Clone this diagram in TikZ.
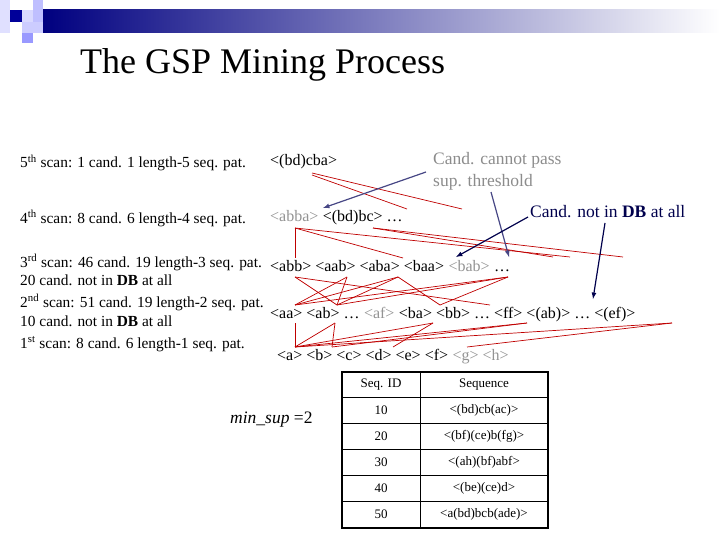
\documentclass[tikz,border=0pt]{standalone}
\usepackage{fontspec}
\setmainfont{Liberation Serif}
\begin{document}
\begin{tikzpicture}[x=1pt,y=-1pt,
  txt/.style={anchor=base west,inner sep=0pt,font=\fontsize{15.4}{17}\selectfont},
  seq/.style={anchor=base west,inner sep=0pt,font=\fontsize{16}{18}\selectfont},
  gry/.style={seq,text=gray!85},
  ann/.style={anchor=base west,inner sep=0pt,font=\fontsize{17.5}{19}\selectfont},
  cell/.style={inner sep=0pt,font=\fontsize{13}{14}\selectfont},
  red/.style={draw=red!75!black,line width=0.7pt},
  garr/.style={draw=gray!70!blue!80!black,line width=1.2pt,-latex},
  narr/.style={draw=blue!30!black,line width=1.2pt,-latex}]
\useasboundingbox (0,0) rectangle (720,540);
% logo
\shade[left color=blue!50!black, right color=white] (43,10) rectangle (720,33);
\fill[blue!12] (0,0) rectangle (10,33);
\fill[blue!60!black] (10,10) rectangle (22,22);
\fill[blue!15] (22,10) rectangle (33,22);
\fill[blue!25] (33,0) rectangle (43,22);
\fill[blue!20] (22,22) rectangle (43,33);
\fill[blue!40] (22,33) rectangle (33,43);
% title
\node[anchor=base west,inner sep=0pt,font=\fontsize{36}{40}\selectfont] (title) at (80,74) {The GSP Mining Process};
% left column
\node[txt] (s5) at (20,168) {5\textsuperscript{th} scan: 1 cand. 1 length-5 seq. pat.};
\node[txt] (s4) at (20,223) {4\textsuperscript{th} scan: 8 cand. 6 length-4 seq. pat.};
\node[txt] (s3) at (20,267) {3\textsuperscript{rd} scan: 46 cand. 19 length-3 seq. pat.};
\node[txt] (s3b) at (20,285) {20 cand. not in \textbf{DB} at all};
\node[txt] (s2) at (20,307) {2\textsuperscript{nd} scan: 51 cand. 19 length-2 seq. pat.};
\node[txt] (s2b) at (20,326) {10 cand. not in \textbf{DB} at all};
\node[txt] (s1) at (20,348) {1\textsuperscript{st} scan: 8 cand. 6 length-1 seq. pat.};
% right sequences
\node[seq] (r5) at (270,166) {<(bd)cba>};
\node[gry] (r4a) at (270,222) {<abba>};
\node[seq] (r4b) at (r4a.base east) {\ <(bd)bc> …};
\node[seq] (r3) at (270,271) {<abb> <aab> <aba> <baa>};
\node[gry] (r3g) at (r3.base east) {\ <bab>};
\node[seq] (r3e) at (r3g.base east) {\ …};
\node[seq] (r2) at (270,318) {<aa> <ab> …};
\node[gry] (r2g) at (r2.base east) {\ <af>};
\node[seq] (r2e) at (r2g.base east) {\ <ba> <bb> … <ff> <(ab)> … <(ef)>};
\node[seq] (r1) at (277,360) {<a> <b> <c> <d> <e> <f>};
\node[gry] (r1g) at (r1.base east) {\ <g> <h>};
% annotations
\node[ann,text=gray!90] (c1) at (433,165) {Cand. cannot pass};
\node[ann,text=gray!90] (c2) at (433,187) {sup. threshold};
\node[ann,text=blue!30!black] (c3) at (530,218) {Cand. not in \textbf{DB} at all};
\coordinate (g1s) at (426,172); \coordinate (g1e) at (323,208);
\coordinate (g2s) at (491,192); \coordinate (g2e) at (509,257);
\coordinate (n1s) at (528,217); \coordinate (n1e) at (456,257);
\coordinate (n2s) at (605,223); \coordinate (n2e) at (593,299);
% red lines
\foreach \a/\b/\c/\d in {312/173/462/209, 312/175/407/209,
  295/228/295/258, 295/228/570/257, 295/228/403/258, 373/228/623/257, 373/228/553/257,
  295/277/337/305, 347/277/295/305, 347/277/337/305, 398/277/295/305, 398/277/440/305,
  398/277/337/305, 508/277/295/305, 508/277/440/305, 295/277/490/305, 508/277/337/305,
  295/323/295/347, 335/323/295/347, 335/323/332/347, 433/323/295/347, 527/323/332/347,
  672/323/295/347, 672/323/467/347, 527/323/295/347, 433/323/393/347}
  \draw[red] (\a,\b) -- (\c,\d);
\draw[garr] (g1s) -- (g1e);
\draw[garr] (g2s) -- (g2e);
\draw[narr] (n1s) -- (n1e);
\draw[narr] (n2s) -- (n2e);
% min sup
\node[anchor=base west,inner sep=0pt,font=\fontsize{17.5}{19}\selectfont] (ms) at (230,423) {\textit{min\_sup} =2};
% table
\draw[line width=1.3pt] (342,372) rectangle (548,528);
\foreach \y in {397,423,449,475,501} \draw[line width=0.6pt] (342,\y) -- (548,\y);
\draw[line width=0.6pt] (420,372) -- (420,528);
\node[cell] (h1) at (381,385) {Seq. ID};
\node[cell] (h2) at (484,385) {Sequence};
\node[cell] (a1) at (381,410) {10}; \node[cell] (b1) at (484,410) {<(bd)cb(ac)>};
\node[cell] (a2) at (381,436) {20}; \node[cell] (b2) at (484,436) {<(bf)(ce)b(fg)>};
\node[cell] (a3) at (381,462) {30}; \node[cell] (b3) at (484,462) {<(ah)(bf)abf>};
\node[cell] (a4) at (381,488) {40}; \node[cell] (b4) at (484,488) {<(be)(ce)d>};
\node[cell] (a5) at (381,514) {50}; \node[cell] (b5) at (484,514) {<a(bd)bcb(ade)>};
\end{tikzpicture}
\end{document}
